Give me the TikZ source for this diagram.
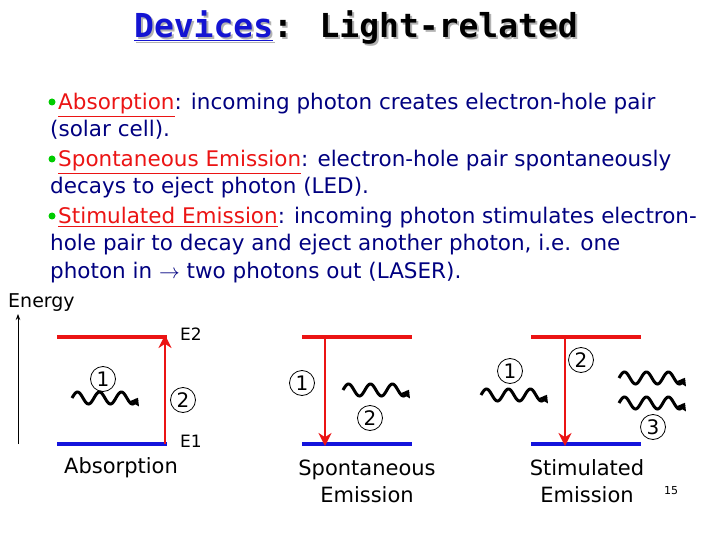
\documentclass[tikz,border=0pt]{standalone}
\usepackage{fontspec}
\setmainfont{DejaVu Sans}
\newfontfamily\titlefont{DejaVu Sans Mono}
\usetikzlibrary{arrows.meta}
\definecolor{navy}{RGB}{0,0,128}
\definecolor{tblue}{RGB}{20,20,210}
\definecolor{lvred}{RGB}{235,20,20}
\definecolor{lvblue}{RGB}{20,20,220}
\begin{document}
\begin{tikzpicture}[x=1pt,y=-1pt,
  body/.style={anchor=base west,inner sep=0pt,text=navy,font=\fontsize{21.5}{24}\selectfont},
  lvup/.style={lvred,line width=4.5pt},
  lvdn/.style={lvblue,line width=4.5pt},
  trans/.style={lvred,line width=2.5pt,-{Stealth[length=13pt,width=13pt]}},
  num/.style={circle,draw,thick,inner sep=1pt,minimum size=25pt,font=\fontsize{20}{20}\selectfont},
  lab/.style={font=\fontsize{21}{27}\selectfont,inner sep=0pt},
  wave/.style={line width=3pt,-{Triangle[length=7pt,width=10pt]}}]
\useasboundingbox (0,0) rectangle (720,540);
\newcommand\trm[1]{\textcolor{lvred}{\underline{#1}}}
% title
\node[text=gray!60,font=\titlefont\bfseries\fontsize{33}{36}\selectfont] at (358,30) {\underline{Devices}: Light-related};
\node (title) [font=\titlefont\bfseries\fontsize{33}{36}\selectfont] at (356,28) {\textcolor{tblue}{\underline{Devices}}: Light-related};
% bullets
\foreach \yy/\nm in {102/b1,159/b2,216/b3}
  \node (\nm) [circle,fill=green!80!black,inner sep=0pt,minimum size=7pt] at (52,\yy) {};
\node (l1) [body] at (58,110) {\trm{Absorption}: incoming photon creates electron-hole pair};
\node (l2) [body] at (50,137) {(solar cell).};
\node (l3) [body] at (58,167) {\trm{Spontaneous Emission}: electron-hole pair spontaneously};
\node (l4) [body] at (50,194) {decays to eject photon (LED).};
\node (l5) [body] at (58,224) {\trm{Stimulated Emission}: incoming photon stimulates electron-};
\node (l6) [body] at (50,251) {hole pair to decay and eject another photon, i.e. one};
\node (l7) [body] at (50,278) {photon in $\rightarrow$ two photons out (LASER).};
% energy axis
\node (en) [lab,anchor=base west,font=\fontsize{19}{20}\selectfont] at (8,307) {Energy};
\coordinate (e0) at (18,444); \coordinate (e1) at (18,314);
\draw[thick,-{Stealth[length=6pt]}] (e0) -- (e1);
% absorption
\coordinate (a2l) at (57,337); \coordinate (a2r) at (167,337);
\coordinate (a1l) at (57,444); \coordinate (a1r) at (167,444);
\draw[lvup] (a2l) -- (a2r); \draw[lvdn] (a1l) -- (a1r);
\coordinate (aab) at (165,444); \coordinate (aat) at (165,335);
\draw[trans] (aab) -- (aat);
\node (E2) [lab,font=\fontsize{17}{17}\selectfont] at (191,334) {E2};
\node (E1) [lab,font=\fontsize{17}{17}\selectfont] at (191,441) {E1};
\node (an1) [num] at (103,379) {1};
\node (an2) [num] at (183,400) {2};
\draw[wave] plot[domain=0:66,samples=70] ({72+\x},{398-6*sin(\x*16.4)});
\node (abs) [lab] at (121,468) {Absorption};
% spontaneous
\coordinate (s2l) at (302,337); \coordinate (s2r) at (412,337);
\coordinate (s1l) at (302,444); \coordinate (s1r) at (412,444);
\draw[lvup] (s2l) -- (s2r); \draw[lvdn] (s1l) -- (s1r);
\coordinate (sat) at (325,337); \coordinate (sab) at (325,446);
\draw[trans] (sat) -- (sab);
\node (sn1) [num] at (302,383) {1};
\node (sn2) [num] at (370,418) {2};
\draw[wave] plot[domain=0:66,samples=70] ({343+\x},{390-6*sin(\x*16.4)});
\node (spo) [lab,align=center] at (367,481) {Spontaneous\\Emission};
% stimulated
\coordinate (t2l) at (531,337); \coordinate (t2r) at (641,337);
\coordinate (t1l) at (531,444); \coordinate (t1r) at (641,444);
\draw[lvup] (t2l) -- (t2r); \draw[lvdn] (t1l) -- (t1r);
\coordinate (tat) at (565,337); \coordinate (tab) at (565,446);
\draw[trans] (tat) -- (tab);
\node (tn1) [num] at (510,371) {1};
\node (tn2) [num] at (581,360) {2};
\node (tn3) [num] at (653,427) {3};
\draw[wave] plot[domain=0:66,samples=70] ({481+\x},{395-6*sin(\x*16.4)});
\draw[wave] plot[domain=0:66,samples=70] ({619+\x},{378-6*sin(\x*16.4)});
\draw[wave] plot[domain=0:66,samples=70] ({619+\x},{403-6*sin(\x*16.4)});
\node (sti) [lab,align=center] at (587,481) {Stimulated\\Emission};
\node (pg) [font=\fontsize{11}{11}\selectfont] at (671,491) {15};
\end{tikzpicture}
\end{document}
